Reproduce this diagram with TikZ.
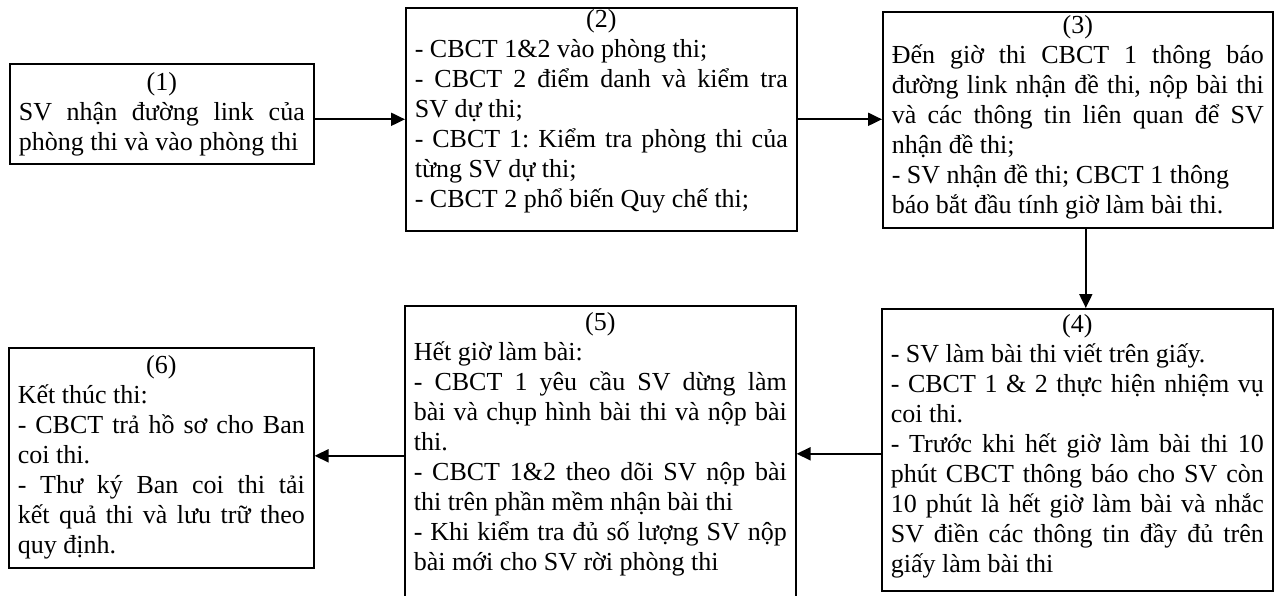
\documentclass[tikz,border=0pt]{standalone}
\usepackage{fontspec}
\setmainfont{Liberation Serif}
\usetikzlibrary{arrows.meta}
\hyphenpenalty=10000
\exhyphenpenalty=10000
\tolerance=10000
\frenchspacing
\begin{document}
\begin{tikzpicture}[x=0.5pt,y=-0.5pt,
  stepbox/.style={draw,line width=0.8pt,anchor=north west,align=justify,inner xsep=4.5pt,inner ysep=0pt,font=\fontsize{13pt}{15pt}\selectfont},
  flow/.style={-{Triangle[length=7pt,width=6.5pt]},line width=1pt}]
\useasboundingbox (0,0) rectangle (1274,595);
\node[stepbox,text width=143pt,text height=13.5pt,text depth=36.5pt] (a) at (9,63) {\centerline{(1)}\par SV nhận đường link của\linebreak phòng thi và vào phòng thi};
\node[stepbox,text width=186.5pt,text height=10pt,text depth=101.5pt] (b) at (405,7) {\centerline{(2)}\par - CBCT 1\&2 vào phòng thi;\\ - CBCT 2 điểm danh và kiểm tra\linebreak SV dự thi;\\ - CBCT 1: Kiểm tra phòng thi của\linebreak từng SV dự thi;\\ - CBCT 2 phổ biến Quy chế thi;};
\node[stepbox,text width=186pt,text height=11pt,text depth=97pt] (c) at (882,11) {\centerline{(3)}\par Đến giờ thi CBCT 1 thông báo\linebreak đường link nhận đề thi, nộp bài thi\linebreak và các thông tin liên quan để SV\linebreak nhận đề thi;\\ - SV nhận đề thi; CBCT 1 thông\\ báo bắt đầu tính giờ làm bài thi.};
\node[stepbox,text width=186.5pt,text height=12pt,text depth=129pt] (d) at (881,308) {\centerline{(4)}\par - SV làm bài thi viết trên giấy.\\ - CBCT 1 \& 2 thực hiện nhiệm vụ\linebreak coi thi.\\ - Trước khi hết giờ làm bài thi 10\linebreak phút CBCT thông báo cho SV còn\linebreak 10 phút là hết giờ làm bài và nhắc\linebreak SV điền các thông tin đầy đủ trên\linebreak giấy làm bài thi};
\node[stepbox,text width=186.5pt,text height=12.5pt,text depth=137.5pt] (e) at (404,305) {\centerline{(5)}\par Hết giờ làm bài:\\ - CBCT 1 yêu cầu SV dừng làm\linebreak bài và chụp hình bài thi và nộp bài\linebreak thi.\\ - CBCT 1\&2 theo dõi SV nộp bài\linebreak thi trên phần mềm nhận bài thi\\ - Khi kiểm tra đủ số lượng SV nộp\linebreak bài mới cho SV rời phòng thi};
\node[stepbox,text width=143.5pt,text height=13pt,text depth=97pt] (f) at (8,347) {\centerline{(6)}\par Kết thúc thi:\\ - CBCT trả hồ sơ cho Ban\linebreak coi thi.\\ - Thư ký Ban coi thi tải\linebreak kết quả thi và lưu trữ theo\linebreak quy định.};
\draw[flow] (a.east |- b.west) -- (b.west);
\draw[flow] (b.east) -- (b.east -| c.west);
\draw[flow] ([xshift=4pt]c.south) -- ([xshift=4pt]c.south |- d.north);
\draw[flow] ([yshift=-2pt]d.west) -- ([yshift=-2pt]d.west -| e.east);
\draw[flow] (e.west) -- (e.west -| f.east);
\end{tikzpicture}
\end{document}
